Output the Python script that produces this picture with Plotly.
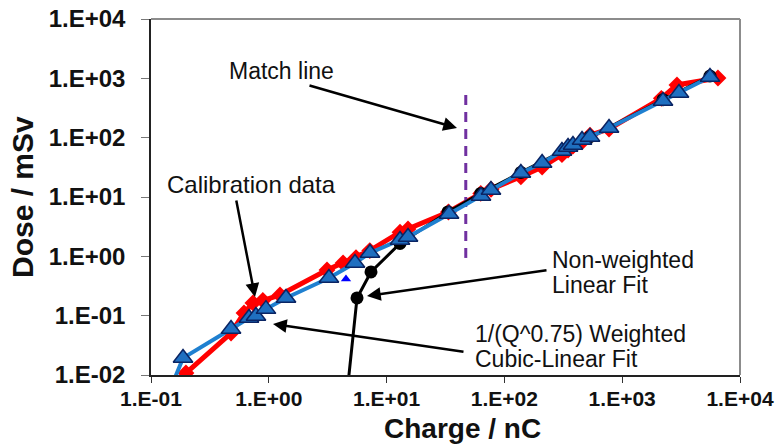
import plotly.graph_objects as go

# ---------------- data ----------------
calib_q = [0.198, 0.478, 0.616, 0.733, 0.89, 1.245, 3.12, 4.27, 5.5, 7.2, 13.0, 15.2, 33.5,
           63.0, 77.0, 138.0, 209.0, 308.0, 347.0, 382.0, 456.0, 533.0, 773.0, 2150.0, 2917.0, 6500.0]
calib_d = [0.0108, 0.051, 0.111, 0.164, 0.18, 0.223, 0.589, 0.77, 0.95, 1.25, 2.55, 2.9, 5.6,
           11.5, 13.5, 22.0, 32.0, 52.0, 62.0, 72.0, 85.0, 110.0, 140.0, 460.0, 773.0, 1014.0]

cubic_q = [0.145, 0.187, 0.478, 0.679, 0.778, 0.946, 1.40, 3.24, 5.39, 7.23, 13.0, 15.2, 33.9,
           63.3, 76.9, 138.0, 209.0, 308.0, 347.0, 382.0, 456.0, 533.0, 773.0, 2220.0, 3034.0, 5560.0]
cubic_d = [0.0056, 0.0193, 0.0596, 0.0914, 0.0986, 0.129, 0.199, 0.432, 0.773, 1.14, 1.89, 2.12, 5.17,
           10.4, 13.1, 25.4, 37.4, 59.6, 69.7, 75.3, 91.4, 103.0, 146.0, 415.0, 566.0, 1054.0]

linear_q = [4.62, 5.61, 7.37, 13.0, 33.2, 63.0, 138.0, 533.0, 2220.0, 5560.0]
linear_d = [0.005, 0.199, 0.545, 1.65, 5.6, 11.5, 26.0, 104.0, 436.0, 1095.0]

odd_q = [4.52]
odd_d = [0.415]

match_q = [47.0, 47.0]
match_d = [0.94, 566.0]

x_tickvals = [0.1, 1, 10, 100, 1000, 10000]
x_ticktext = ["1.E-01", "1.E+00", "1.E+01", "1.E+02", "1.E+03", "1.E+04"]
y_tickvals = [0.01, 0.1, 1, 10, 100, 1000, 10000]
y_ticktext = ["1.E-02", "1.E-01", "1.E+00", "1.E+01", "1.E+02", "1.E+03", "1.E+04"]

FONT = "Liberation Sans, Arial, sans-serif"

fig = go.Figure()

fig.add_trace(go.Scatter(
    x=calib_q, y=calib_d, mode="lines+markers",
    line=dict(color="#FF0000", width=5),
    marker=dict(symbol="diamond", size=13, color="#FF0000"),
    name="Calibration data"))

fig.add_trace(go.Scatter(
    x=match_q, y=match_d, mode="lines",
    line=dict(color="#7030A0", width=3, dash="10px,7px"),
    name="Match line"))

fig.add_trace(go.Scatter(
    x=linear_q, y=linear_d, mode="lines+markers",
    line=dict(color="#000000", width=3),
    marker=dict(symbol="circle", size=13, color="#000000"),
    name="Non-weighted Linear Fit"))

fig.add_trace(go.Scatter(
    x=cubic_q, y=cubic_d, mode="lines+markers",
    line=dict(color="#1F80D0", width=4),
    marker=dict(symbol="triangle-up", size=17, color="#1F6FC0",
                line=dict(color="#0A2463", width=1.5)),
    name="Cubic-Linear Fit"))

fig.add_trace(go.Scatter(
    x=odd_q, y=odd_d, mode="markers",
    marker=dict(symbol="triangle-up", size=9, color="#0000FF"),
    name="point"))

L, R, T, B = 151, 740, 19, 375
W = R - L
H = B - T


def px(x):
    return (x - L) / W


def py(y):
    return (B - y) / H


annotations = []
# text labels: (text, left x, middle y, size)
labels = [
    ("Match line", 227, 71, 23),
    ("Calibration data", 165, 184, 24),
    ("Non-weighted", 550, 260, 23),
    ("Linear Fit", 550, 285, 23),
    ("1/(Q^0.75) Weighted", 473, 334, 23),
    ("Cubic-Linear Fit", 473, 359, 23),
]
for t, x, y, s in labels:
    annotations.append(dict(text=t, x=px(x), y=py(y), xref="paper", yref="paper",
                            xanchor="left", yanchor="middle", showarrow=False,
                            font=dict(family=FONT, size=s, color="#111111")))

# axis titles
annotations.append(dict(text="<b>Charge / nC</b>", x=px(462), y=py(445), xref="paper", yref="paper",
                        xanchor="center", yanchor="bottom", showarrow=False, borderpad=0,
                        font=dict(family=FONT, size=28, color="#111111")))
annotations.append(dict(text="<b>Dose / mSv</b>", x=px(22), y=py(197), xref="paper", yref="paper",
                        xanchor="center", yanchor="middle", showarrow=False, textangle=-90,
                        font=dict(family=FONT, size=30, color="#111111")))

# arrows: (head_x, head_y, tail_x, tail_y)
arrows = [
    (457, 128, 308, 85),
    (255, 297, 236, 199),
    (367, 296, 548, 270),
    (273, 324, 465, 352),
]
for hx, hy, tx, ty in arrows:
    annotations.append(dict(text="", x=px(hx), y=py(hy), xref="paper", yref="paper",
                            ax=tx - hx, ay=ty - hy, axref="pixel", ayref="pixel",
                            showarrow=True, arrowhead=2, arrowsize=1.1, arrowwidth=2.5,
                            arrowcolor="#000000", standoff=0))

fig.update_layout(
    width=780, height=445,
    margin=dict(l=L, r=780 - R, t=T, b=445 - B, autoexpand=False),
    paper_bgcolor="white", plot_bgcolor="white",
    showlegend=False,
    annotations=annotations,
    shapes=[
        dict(type="line", xref="paper", yref="paper", x0=0, x1=1, y0=1, y1=1,
             line=dict(color="#8C8C8C", width=2)),
        dict(type="line", xref="paper", yref="paper", x0=1, x1=1, y0=0, y1=1,
             line=dict(color="#8C8C8C", width=2)),
    ],
)

fig.update_xaxes(
    type="log", range=[-1, 4], automargin=False,
    tickvals=x_tickvals, ticktext=x_ticktext,
    tickfont=dict(family=FONT, size=21, color="#111111", weight="bold"),
    ticks="outside", ticklen=6, tickcolor="#333333", tickwidth=1, ticklabelstandoff=-2,
    showline=True, linecolor="#222222", linewidth=1.5,
    showgrid=False, zeroline=False,
)
fig.update_yaxes(
    type="log", range=[-2, 4], automargin=False,
    tickvals=y_tickvals, ticktext=y_ticktext,
    tickfont=dict(family=FONT, size=24, color="#111111", weight="bold"),
    ticks="outside", ticklen=8, tickcolor="#777777", tickwidth=1, ticklabelstandoff=11,
    showline=True, linecolor="#222222", linewidth=1.5,
    showgrid=False, zeroline=False,
)

fig.write_html("out.html")
